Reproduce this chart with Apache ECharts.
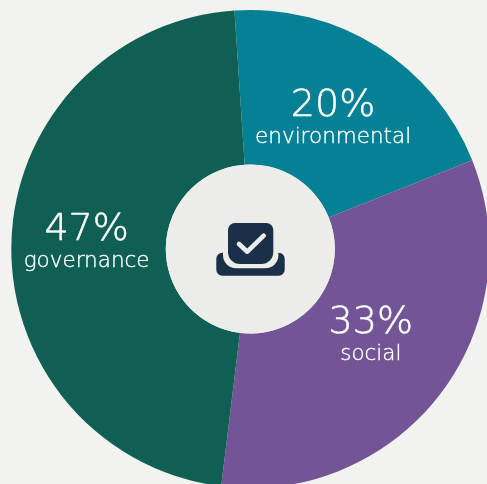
<!DOCTYPE html>
<html>
<head>
<meta charset="utf-8">
<style>html,body{margin:0;padding:0;background:#f2f3ef}#chart{width:487px;height:484px}</style>
<script src="https://cdn.jsdelivr.net/npm/echarts@6/dist/echarts.min.js"></script>
</head>
<body>
<div id="chart"></div>
<script>
const categories = ['environmental', 'social', 'governance'];
const shares = [20, 33, 47];
const sliceColors = ['#068095', '#735596', '#105f55'];
const labelNudges = [[-5, 9], [-10, -14], [1, -2]];

const cx = 250.3, cy = 249;
const hubColor = '#ecede8';
const iconColor = '#1a2f48';
const labelFont = '"DejaVu Sans"';

const chart = echarts.init(document.getElementById('chart'), null, { renderer: 'canvas' });
chart.setOption({
  backgroundColor: '#f2f3ef',
  animation: false,
  series: [{
    type: 'pie',
    center: [cx, cy],
    radius: [84.5, 239],
    startAngle: 93.8,
    clockwise: true,
    silent: true,
    data: categories.map((name, i) => ({
      name,
      value: shares[i],
      itemStyle: { color: sliceColors[i] }
    })),
    labelLine: { show: false },
    labelLayout: p => ({ dx: labelNudges[p.dataIndex][0], dy: labelNudges[p.dataIndex][1] }),
    label: {
      show: true,
      position: 'inside',
      formatter: p => `{pct|${p.value}%}\n{cat|${p.name}}`,
      rich: {
        pct: { fontFamily: labelFont, fontWeight: 200, fontSize: 38, lineHeight: 38, color: '#ffffff', align: 'center', textBorderColor: '#ffffff', textBorderWidth: 0.5 },
        cat: { fontFamily: labelFont, fontWeight: 200, fontSize: 21.5, lineHeight: 25, color: '#ffffff', align: 'center', textBorderColor: '#ffffff', textBorderWidth: 0.35 }
      }
    }
  }],
  graphic: [
    // Hub disc and the tray-with-check emblem in its middle
    { type: 'circle', silent: true, shape: { cx, cy, r: 84.5 }, style: { fill: hubColor }, z: 10 },
    { type: 'rect', silent: true, shape: { x: cx - 34, y: cy + 3.7, width: 68.4, height: 23, r: 6 }, style: { fill: iconColor }, z: 11 },
    { type: 'rect', silent: true, shape: { x: cx - 27.3, y: cy - 30, width: 55.4, height: 49.3, r: [0, 0, 13, 13] }, style: { fill: hubColor }, z: 12 },
    { type: 'rect', silent: true, shape: { x: cx - 22.3, y: cy - 26, width: 45.3, height: 41, r: [7, 7, 12, 12] }, style: { fill: iconColor }, z: 13 },
    { type: 'polyline', silent: true, shape: { points: [[cx - 11.3, cy - 5], [cx - 3, cy + 2.7], [cx + 13.4, cy - 13.3]] },
      style: { stroke: hubColor, lineWidth: 4.6, lineCap: 'round', lineJoin: 'round', fill: null }, z: 14 }
  ]
});
</script>
</body>
</html>
